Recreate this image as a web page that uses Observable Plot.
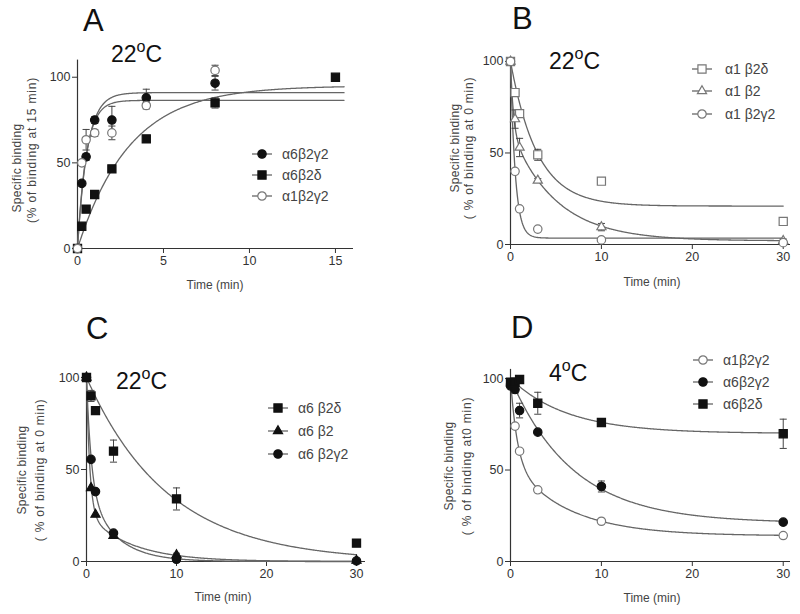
<!DOCTYPE html>
<html><head><meta charset="utf-8">
<script src="https://cdn.jsdelivr.net/npm/d3@7"></script>
<script src="https://cdn.jsdelivr.net/npm/@observablehq/plot@0.6"></script>
<style>
body{margin:0;background:#fff;font-family:"Liberation Sans",Arial,sans-serif;color:#333}
#wrap{position:relative;width:800px;height:614px;overflow:hidden;background:#fff}
.panel{position:absolute}
.t{position:absolute;white-space:nowrap;line-height:1;font-weight:normal}
.rot{position:absolute;white-space:nowrap;line-height:1;transform:translate(-50%,-50%) rotate(-90deg);font-size:12px;color:#444;font-weight:normal}
sup{font-size:0.7em;vertical-align:0.6em;line-height:0}
</style></head><body><div id="wrap"></div>
<script>
// ---------- Panel A (association, 22°C) ----------
const timesA = [0, 0.25, 0.5, 1, 2, 4, 8, 15];
const a6b2g2A = [0, 38, 53.5, 75, 75, 88, 96.5, null];
const a6b2g2A_err = [0, 0, 2, 2, 8, 5, 4, 0];
const a6b2dA = [0, 13, 23, 31.5, 46.5, 64, 85, 100];
const a6b2dA_err = [0, 0, 2, 2, 0, 0, 3, 0];
const a1b2g2A = [0, 50, 63.5, 67.5, 67.5, 83.5, 104, null];
const a1b2g2A_err = [0, 0, 6, 2, 4, 2, 3, 0];
// fitted curves: y = plateau + a1*exp(-k1 t) + a2*exp(-k2 t)
const fitA = [
  {plateau: 95, a1: -95, k1: 0.33, a2: 0, k2: 0},
  {plateau: 91, a1: -91, k1: 1.75, a2: 0, k2: 0},
  {plateau: 86.5, a1: -86.5, k1: 1.95, a2: 0, k2: 0}
];

// ---------- Panel B (dissociation, 22°C) ----------
const timesB = [0, 0.5, 1, 3, 10, 30];
const a1b2dB = [100, 83, 71.5, 49, 34.6, 12.6];
const a1b2dB_err = [0, 2, 2, 3, 0, 0];
const a1b2B = [100, 68.5, 53, 35, 9.5, 2];
const a1b2B_err = [0, 5, 5, 1, 2, 1];
const a1b2g2B = [100, 40, 19.5, 8.4, 2.5, 1];
const a1b2g2B_err = [0, 0, 0, 0, 0, 0];
const fitB = [
  {plateau: 21, a1: 79, k1: 0.34, a2: 0, k2: 0},
  {plateau: 2, a1: 37.4, k1: 3.2, a2: 60.6, k2: 0.2025},
  {plateau: 3.5, a1: 96.5, k1: 1.9, a2: 0, k2: 0}
];

// ---------- Panel C (dissociation, 22°C) ----------
const timesC = [0, 0.5, 1, 3, 10, 30];
const a6b2dC = [100, 90, 82, 60, 34, 10];
const a6b2dC_err = [0, 3, 1, 6, 6, 0];
const a6b2C = [100, 40, 25.5, 14, 3.5, 0.5];
const a6b2C_err = [0, 0, 0, 1, 1, 0];
const a6b2g2C = [100, 55.5, 38, 15.4, 1.2, 0.3];
const a6b2g2C_err = [0, 0, 0, 0, 0, 0];
const fitC = [
  {plateau: 0, a1: 100, k1: 0.11, a2: 0, k2: 0},
  {plateau: 0, a1: 74, k1: 2.73, a2: 26, k2: 0.206},
  {plateau: 0, a1: 59.7, k1: 1.9, a2: 40.3, k2: 0.329}
];

// ---------- Panel D (dissociation, 4°C) ----------
const timesD = [0, 0.5, 1, 3, 10, 30];
const a1b2g2D = [97, 74, 60.3, 39.2, 22, 14.2];
const a1b2g2D_err = [0, 0, 1, 1, 1, 0];
const a6b2g2D = [96, 94, 82.5, 70.7, 41, 21.5];
const a6b2g2D_err = [0, 2, 4, 1, 3, 0];
const a6b2dD = [98, 98, 99.5, 86.5, 76, 69.8];
const a6b2dD_err = [0, 0, 0, 6, 1, 8];
const fitD = [
  {plateau: 14, a1: 45.3, k1: 1.38, a2: 40.7, k2: 0.163},
  {plateau: 21, a1: 79, k1: 0.145, a2: 0, k2: 0},
  {plateau: 70, a1: 30, k1: 0.16, a2: 0, k2: 0}
];

// ---------- text ----------
const namesA = ["α6β2γ2", "α6β2δ", "α1β2γ2"];
const namesB = ["α1 β2δ", "α1 β2", "α1 β2γ2"];
const namesC = ["α6 β2δ", "α6 β2", "α6 β2γ2"];
const namesD = ["α1β2γ2", "α6β2γ2", "α6β2δ"];

const FILL = "#111", OPEN = "#777", CURVE = "#666";
const styles = {
  filledCircle: {symbol: "circle", fill: FILL, stroke: FILL, r: 4.2},
  filledSquare: {symbol: "square", fill: FILL, stroke: FILL, r: 4.6},
  filledTriangle: {symbol: "triangle", fill: FILL, stroke: FILL, r: 3.4},
  openCircle: {symbol: "circle", fill: "#fff", stroke: OPEN, r: 4.2},
  openSquare: {symbol: "square", fill: "#fff", stroke: OPEN, r: 4.6},
  openTriangle: {symbol: "triangle", fill: "#fff", stroke: OPEN, r: 3.4}
};

const capSymbol = {draw(ctx, size) { const w = Math.sqrt(size) / 2; ctx.moveTo(-w, 0); ctx.lineTo(w, 0); }};
const model = (p, t) => p.plateau + p.a1 * Math.exp(-p.k1 * t) + p.a2 * Math.exp(-p.k2 * t);

const wrap = document.getElementById("wrap");

function panel(cfg) {
  const marks = [];
  const curveRows = [];
  cfg.series.forEach((s, i) => {
    const p = cfg.fits[i];
    for (let j = 0; j <= 400; j++) {
      const t = cfg.tEnd * j / 400;
      curveRows.push({t, y: model(p, t), s: i});
    }
  });
  marks.push(Plot.ruleX([0], {stroke: "#333", strokeWidth: 1.2}));
  marks.push(Plot.ruleY([0], {stroke: "#333", strokeWidth: 1.2}));
  marks.push(Plot.line(curveRows, {x: "t", y: "y", z: "s", stroke: CURVE, strokeWidth: 1.3, curve: "linear"}));
  cfg.series.forEach(s => {
    const pts = cfg.times.map((t, j) => ({t, y: s.values[j], e: s.errors[j]})).filter(d => d.y != null);
    const eb = pts.filter(d => d.e > 0);
    marks.push(Plot.ruleX(eb, {x: "t", y1: d => d.y - d.e, y2: d => d.y + d.e, stroke: "#444", strokeWidth: 1}));
    marks.push(Plot.dot(eb, {x: "t", y: d => d.y + d.e, symbol: capSymbol, r: 4, stroke: "#444", strokeWidth: 1}));
    marks.push(Plot.dot(eb, {x: "t", y: d => d.y - d.e, symbol: capSymbol, r: 4, stroke: "#444", strokeWidth: 1}));
  });
  cfg.series.forEach(s => {
    const pts = cfg.times.map((t, j) => ({t, y: s.values[j]})).filter(d => d.y != null);
    const st = styles[s.style];
    marks.push(Plot.dot(pts, {x: "t", y: "y", symbol: st.symbol, r: st.r, fill: st.fill, stroke: st.stroke, strokeWidth: 1.2}));
  });
  const chart = Plot.plot({
    width: 400, height: 307,
    marginLeft: cfg.mL, marginRight: cfg.mR, marginTop: cfg.mT, marginBottom: cfg.mB,
    x: {domain: cfg.xDomain, ticks: cfg.xTicks, tickSize: 5, tickPadding: 3, label: null},
    y: {domain: cfg.yDomain, ticks: 3, tickSize: 5, tickPadding: 2, label: null},
    style: {fontFamily: "Liberation Sans, Arial, sans-serif", fontSize: "12.5px", color: "#333", background: "transparent", overflow: "visible"},
    marks
  });
  const div = document.createElement("div");
  div.className = "panel";
  div.style.left = cfg.left + "px";
  div.style.top = cfg.top + "px";
  div.appendChild(chart);
  wrap.appendChild(div);
}

function text(html, left, baseline, size, extra) {
  const e = document.createElement("div");
  e.className = "t";
  e.innerHTML = html;
  e.style.left = left + "px";
  e.style.top = (baseline - 0.85 * size) + "px";
  e.style.fontSize = size + "px";
  e.style.color = "#111";
  if (extra) Object.assign(e.style, extra);
  wrap.appendChild(e);
}
function centered(html, cx, cy, size) {
  const e = document.createElement("div");
  e.className = "t";
  e.innerHTML = html;
  e.style.left = cx + "px";
  e.style.top = cy + "px";
  e.style.fontSize = size + "px";
  e.style.color = "#444";
  e.style.transform = "translate(-50%,-50%)";
  wrap.appendChild(e);
}
function rot(txt, cx, cy, spacing) {
  const e = document.createElement("div");
  e.className = "rot";
  e.textContent = txt;
  e.style.left = cx + "px";
  e.style.top = cy + "px";
  if (spacing) e.style.letterSpacing = spacing + "px";
  wrap.appendChild(e);
}
function legend(names, styleKeys, cx, tx, rows) {
  names.forEach((n, i) => {
    const st = styles[styleKeys[i]];
    const sym = {circle: d3.symbolCircle, square: d3.symbolSquare, triangle: d3.symbolTriangle}[st.symbol];
    const path = d3.symbol(sym, Math.PI * st.r * st.r)();
    const svg = d3.create("svg").attr("width", 24).attr("height", 14)
      .style("position", "absolute").style("left", (cx - 12) + "px").style("top", (rows[i] - 7) + "px");
    svg.append("line").attr("x1", 2).attr("x2", 22).attr("y1", 7).attr("y2", 7).attr("stroke", CURVE).attr("stroke-width", 1.3);
    svg.append("path").attr("d", path).attr("transform", "translate(12,7)")
      .attr("fill", st.fill).attr("stroke", st.stroke).attr("stroke-width", 1.2);
    wrap.appendChild(svg.node());
    const e = document.createElement("div");
    e.className = "t";
    e.textContent = n;
    e.style.left = tx + "px";
    e.style.top = rows[i] + "px";
    e.style.fontSize = "14px";
    e.style.transform = "translateY(-50%)";
    e.style.color = "#444";
    wrap.appendChild(e);
  });
}

// Panel A
panel({left: 0, top: 0, mL: 77, mR: 47, mT: 59.6, mB: 59, xDomain: [0, 16.05], xTicks: 4, yDomain: [0, 110], tEnd: 15.5,
  times: timesA, fits: fitA,
  series: [
    {values: a6b2dA, errors: a6b2dA_err, style: "filledSquare"},
    {values: a6b2g2A, errors: a6b2g2A_err, style: "filledCircle"},
    {values: a1b2g2A, errors: a1b2g2A_err, style: "openCircle"}
  ]});
// Panel B
panel({left: 400, top: 0, mL: 110, mR: 10, mT: 57.3, mB: 63, xDomain: [0, 30.8], xTicks: 3, yDomain: [0, 102], tEnd: 30,
  times: timesB, fits: fitB,
  series: [
    {values: a1b2dB, errors: a1b2dB_err, style: "openSquare"},
    {values: a1b2B, errors: a1b2B_err, style: "openTriangle"},
    {values: a1b2g2B, errors: a1b2g2B_err, style: "openCircle"}
  ]});
// Panel C
panel({left: 0, top: 307, mL: 86, mR: 35, mT: 64.5, mB: 53, xDomain: [0, 31], xTicks: 3, yDomain: [0, 103], tEnd: 30,
  times: timesC, fits: fitC,
  series: [
    {values: a6b2dC, errors: a6b2dC_err, style: "filledSquare"},
    {values: a6b2C, errors: a6b2C_err, style: "filledTriangle"},
    {values: a6b2g2C, errors: a6b2g2C_err, style: "filledCircle"}
  ]});
// Panel D
panel({left: 400, top: 307, mL: 110, mR: 10, mT: 61.9, mB: 53, xDomain: [0, 30.8], xTicks: 3, yDomain: [0, 105], tEnd: 30,
  times: timesD, fits: fitD,
  series: [
    {values: a1b2g2D, errors: a1b2g2D_err, style: "openCircle"},
    {values: a6b2g2D, errors: a6b2g2D_err, style: "filledCircle"},
    {values: a6b2dD, errors: a6b2dD_err, style: "filledSquare"}
  ]});

// titles
text("A", 83, 31, 31);
text("22<sup>o</sup>C", 111, 63, 23);
text("B", 512, 29, 31);
text("22<sup>o</sup>C", 549, 70, 23);
text("C", 86, 339, 31);
text("22<sup>o</sup>C", 116, 390, 23);
text("D", 511, 338, 31);
text("4<sup>o</sup>C", 549, 382, 23);

// axis titles
centered("Time (min)", 215, 285, 12);
centered("Time (min)", 652, 282, 12);
centered("Time (min)", 223, 597, 12);
centered("Time (min)", 652, 598, 12);
rot("Specific binding", 17, 168, 0.3);
rot("(% of binding at 15 min)", 32, 150, 0.8);
rot("Specific binding", 455, 148, 0.3);
rot("( % of binding at 0 min)", 469, 148, 0.8);
rot("Specific binding", 22, 470, 0.3);
rot("( % of binding at 0 min)", 40, 470, 0.8);
rot("Specific binding", 449, 466, 0.3);
rot("( % of binding at0 min)", 467, 466, 0.8);

// legends
legend(namesA, ["filledCircle", "filledSquare", "openCircle"], 262, 282, [154, 175, 196]);
legend(namesB, ["openSquare", "openTriangle", "openCircle"], 702, 725, [69, 91, 114]);
legend(namesC, ["filledSquare", "filledTriangle", "filledCircle"], 278, 298, [408, 431, 454]);
legend(namesD, ["openCircle", "filledCircle", "filledSquare"], 703, 723, [360, 382, 404]);
</script></body></html>
